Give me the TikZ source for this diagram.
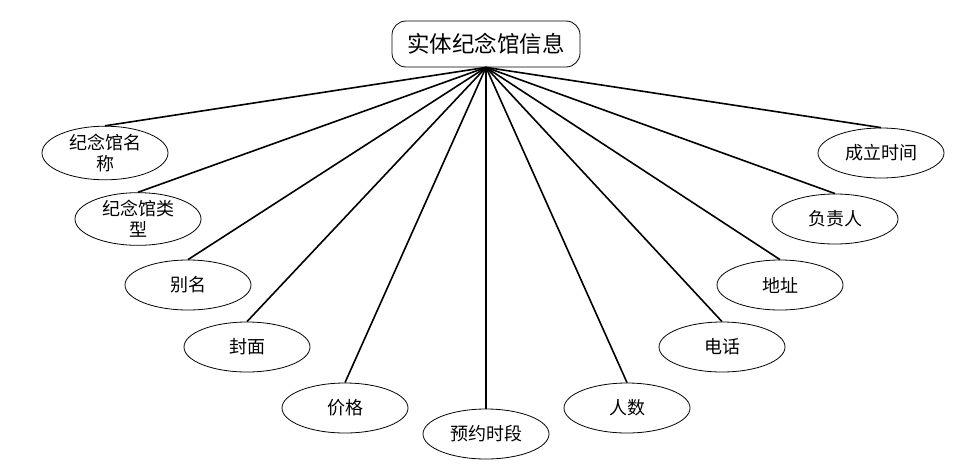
\documentclass[tikz,border=0pt]{standalone}
\usepackage{fontspec}
\setmainfont{Noto Sans CJK SC}
\usetikzlibrary{shapes.geometric}

\tikzset{
    titlebox/.style={
        draw,
        rectangle,
        line width=0.8pt,
        rounded corners=14pt,
        minimum width=188pt,
        minimum height=46pt,
        font=\fontsize{22.5pt}{26pt}\selectfont
    },
    attrbox/.style={
        draw,
        ellipse,
        line width=0.8pt,
        minimum width=126pt,
        minimum height=50pt,
        inner sep=0pt,
        align=center,
        font=\fontsize{18pt}{21pt}\selectfont
    },
    link/.style={line width=1.6pt}
}

\begin{document}
\begin{tikzpicture}[x=1pt, y=-1pt]
    \useasboundingbox (0,0) rectangle (968,474);

    \node[titlebox] (info) at (486,44) {实体纪念馆信息};

    % attributes, left to right
    \foreach \name/\px/\py/\label in {
        mname/105/153/{纪念馆名\\称},
        mtype/138/219/{纪念馆类\\型},
        alias/188/285/别名,
        cover/247/347/封面,
        price/345/408/价格,
        slot/486/434/预约时段,
        people/627/408/人数,
        phone/722/347/电话,
        addr/780/285/地址,
        owner/835/219/负责人,
        founded/881/153/成立时间%
    }{
        \node[attrbox] (\name) at (\px,\py) {\label};
        \draw[link] (info.south) -- (\name.north);
    }
\end{tikzpicture}
\end{document}
